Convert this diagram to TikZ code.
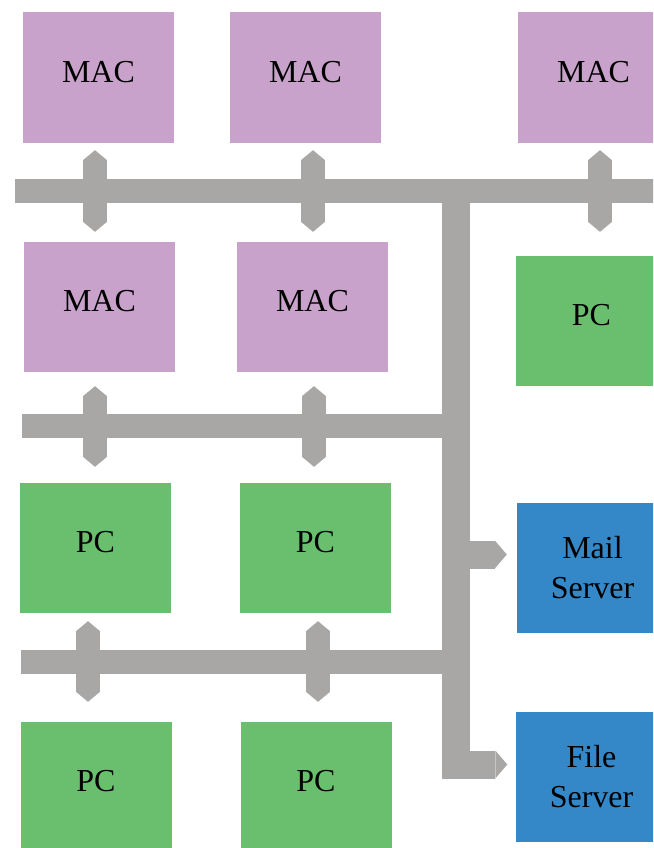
\documentclass[tikz,border=0pt]{standalone}
\usepackage{fontspec}
\setmainfont{Liberation Serif}
\usepackage{xcolor}
\usetikzlibrary{
    arrows.meta,
    calc
}
\definecolor{macpurple}{HTML}{C8A2CB}
\definecolor{pcgreen}{HTML}{6ABF6F}
\definecolor{srvblue}{HTML}{3588C8}
\definecolor{busgray}{HTML}{A8A7A5}

\begin{document}
\begin{tikzpicture}[x=1pt, y=-1pt,
    box/.style={minimum width=151pt, minimum height=130pt, inner sep=0pt, align=center, font=\fontsize{32}{40}\selectfont},
    mac/.style={box, fill=macpurple, text depth=12pt},
    pc/.style={box, fill=pcgreen, text depth=12pt},
    srv/.style={box, fill=srvblue},
    bus/.style={draw=busgray, line width=24pt},
    trunk/.style={draw=busgray, line width=28pt, line join=miter},
    link/.style={draw=busgray, line width=24pt, arrows={Triangle[width=24pt,length=10pt,line width=0pt]-Triangle[width=24pt,length=10pt,line width=0pt]}},
    feed/.style={trunk, arrows={-Triangle[width=28pt,length=12pt,line width=0pt]}}]
                                \clip (0, 0) rectangle (653, 848);
                                \node[mac] (mac1) at (98.5, 77.5) {MAC};
                                \node[mac] (mac2) at (305.5, 77.5) {MAC};
                                \node[mac] (mac3) at (593.5, 77.5) {MAC};
                                \node[mac] (mac4) at (99.5, 307) {MAC};
                                \node[mac] (mac5) at (312.5, 307) {MAC};
                                \node[pc] (pc1) at (591.5, 321) {PC};
                                \node[pc] (pc2) at (95.5, 548) {PC};
                                \node[pc] (pc3) at (315.5, 548) {PC};
                                \node[srv] (mail) at (592.5, 567.5) {Mail\\Server};
                                \node[pc] (pc4) at (96, 787) {PC};
                                \node[pc] (pc5) at (316, 787) {PC};
                                \node[srv] (file) at (591.5, 777) {File\\Server};
                                \coordinate (aW) at (15, 191);
                                \coordinate (aE) at (660, 191);
                                \coordinate (bW) at (22, 426);
                                \coordinate (cW) at (21, 661.5);
                                \coordinate (top) at (455.5, 191);
                                \coordinate (tA1) at (95, 191);
                                \coordinate (tA2) at (313, 191);
                                \coordinate (tA3) at (600, 191);
                                \coordinate (tB1) at (95, 426);
                                \coordinate (tB2) at (314, 426);
                                \coordinate (tC1) at (88, 661.5);
                                \coordinate (tC2) at (318, 661.5);
                                \coordinate (mailIn) at ([yshift=13pt]mail.west);
                                \coordinate (fileIn) at ([yshift=12.5pt]file.west);
                                \draw[bus] (aW) -- (aE);
                                \draw[bus] (bW) -- (bW -| top);
                                \draw[bus] (cW) -- (cW -| top);
                                \draw[feed, shorten >=8.5pt] (top) |- (fileIn);
                                \draw[feed, shorten >=10pt] (mailIn -| top) -- (mailIn);
                                \draw[link, shorten <=7.5pt, shorten >=10pt] (mac1.south -| tA1) -- (mac4.north -| tA1);
                                \draw[link, shorten <=7.5pt, shorten >=10pt] (mac2.south -| tA2) -- (mac5.north -| tA2);
                                \draw[link, shorten <=7.5pt, shorten >=24pt] (mac3.south -| tA3) -- (pc1.north -| tA3);
                                \draw[link, shorten <=14pt, shorten >=16pt] (mac4.south -| tB1) -- (pc2.north -| tB1);
                                \draw[link, shorten <=14pt, shorten >=16pt] (mac5.south -| tB2) -- (pc3.north -| tB2);
                                \draw[link, shorten <=8pt, shorten >=20pt] (pc2.south -| tC1) -- (pc4.north -| tC1);
                                \draw[link, shorten <=8pt, shorten >=20pt] (pc3.south -| tC2) -- (pc5.north -| tC2);
                            \end{tikzpicture}
\end{document}
